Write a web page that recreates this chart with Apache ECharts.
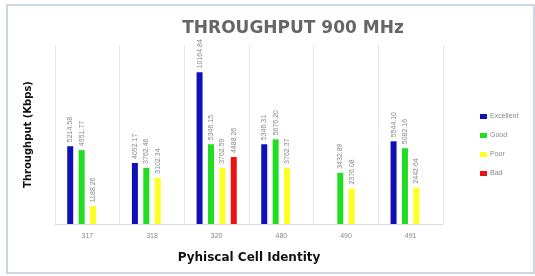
<!DOCTYPE html>
<html>
<head>
<meta charset="utf-8">
<script src="https://cdn.jsdelivr.net/npm/echarts@6/dist/echarts.min.js"></script>
<style>
  html, body { margin: 0; padding: 0; background: #fff; }
  #chart { width: 535px; height: 276px; }
</style>
</head>
<body>
<div id="chart"></div>
<script>
var cells = ['317', '318', '320', '480', '490', '491'];
var excellent = [5214.58, 4092.17, 10164.84, 5346.31, null, 5544.10];
var good = [4951.77, 3762.46, 5346.15, 5676.20, 3432.89, 5082.16];
var poor = [1188.26, 3102.34, 3762.59, 3762.37, 2376.08, 2442.64];
var bad = [null, null, 4488.26, null, null, null];

var chart = echarts.init(document.getElementById('chart'));

function barSeries(name, data, color) {
  return {
    name: name,
    type: 'bar',
    data: data,
    barWidth: 6,
    barGap: '90%',
    barCategoryGap: '38%',
    itemStyle: { color: color },
    label: {
      show: true,
      position: 'top',
      rotate: 90,
      align: 'left',
      verticalAlign: 'middle',
      distance: 4,
      fontSize: 7,
      color: '#888',
      formatter: function (p) { return p.value == null ? '' : p.value.toFixed(2); }
    }
  };
}

chart.setOption({
  animation: false,
  backgroundColor: '#fff',
  title: {
    text: 'THROUGHPUT 900 MHz',
    left: 288,
    top: 15,
    textAlign: 'center',
    textStyle: { fontFamily: 'DejaVu Sans', fontSize: 17, fontWeight: 'bold', color: '#666' }
  },
  legend: {
    orient: 'vertical',
    left: 475,
    top: 108,
    itemWidth: 7,
    itemHeight: 5,
    itemGap: 12,
    icon: 'rect',
    textStyle: { fontSize: 7, color: '#888', padding: [0, 0, 0, -2] },
    data: ['Excellent', 'Good', 'Poor', 'Bad']
  },
  grid: { left: 55, right: 92, top: 45, bottom: 52 },
  xAxis: {
    type: 'category',
    data: cells,
    name: 'Pyhiscal Cell Identity',
    nameLocation: 'middle',
    nameGap: 28,
    nameTextStyle: { fontFamily: 'DejaVu Sans', fontSize: 12, fontWeight: 'bold', color: '#111' },
    axisLine: { lineStyle: { color: '#ddd' } },
    axisTick: { show: false },
    axisLabel: { fontSize: 7, color: '#888', margin: 9 },
    splitLine: { show: true, lineStyle: { color: '#e6e6e6' } }
  },
  yAxis: {
    type: 'value',
    min: 0,
    max: 12000,
    name: 'Throughput (Kbps)',
    nameLocation: 'middle',
    nameGap: 22,
    nameRotate: 90,
    nameTextStyle: { fontFamily: 'DejaVu Sans', fontSize: 10, fontWeight: 'bold', color: '#111' },
    axisLine: { show: false },
    axisTick: { show: false },
    axisLabel: { show: false },
    splitLine: { show: false }
  },
  graphic: [{
    type: 'rect',
    shape: { x: 7, y: 5, width: 527, height: 268 },
    style: { fill: 'none', stroke: '#b8ccdc', lineWidth: 1.5 },
    z: -1
  }],
  series: [
    barSeries('Excellent', excellent, '#1010b8'),
    barSeries('Good', good, '#22dd22'),
    barSeries('Poor', poor, '#ffff22'),
    barSeries('Bad', bad, '#ee1111')
  ]
});
</script>
</body>
</html>
